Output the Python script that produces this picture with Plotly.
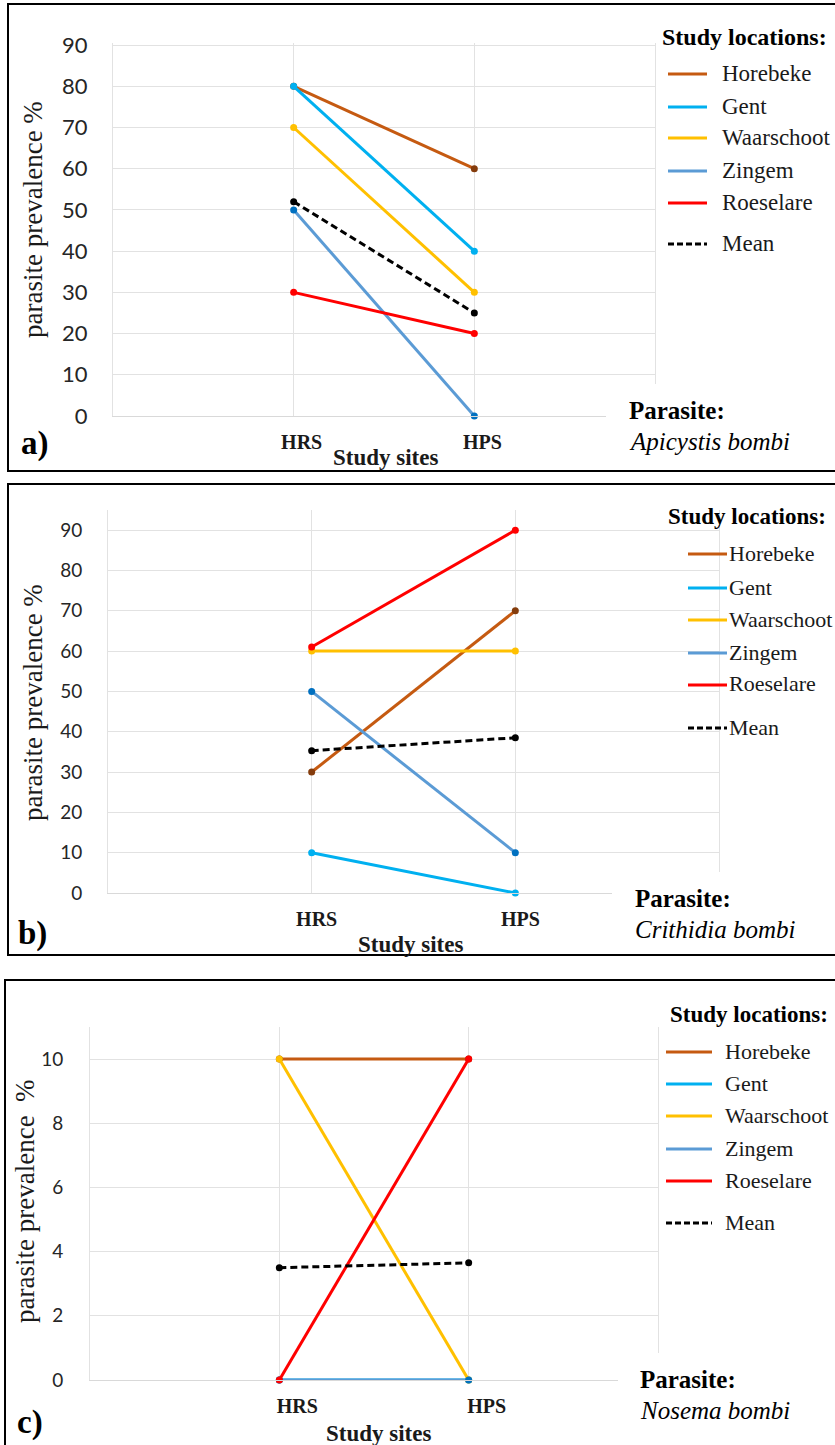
import plotly.graph_objects as go

W, H = 835, 1445

# ---------------- data ----------------
sites = ["HRS", "HPS"]
locations = ["Horebeke", "Gent", "Waarschoot", "Zingem", "Roeselare"]

# Apicystis bombi (panel a): prevalence per location at HRS and HPS
a_hrs = [80, 80, 70, 50, 30]
a_hps = [60, 40, 30, 0, 20]
a_mean = [52, 25]

# Crithidia bombi (panel b)
b_hrs = [30, 10, 60, 50, 61]
b_hps = [70, 0, 60, 10, 90]
b_mean = [35.3, 38.5]

# Nosema bombi (panel c)
c_hrs = [10, 0, 10, 0, 0]
c_hps = [10, 0, 0, 0, 10]
c_mean = [3.5, 3.65]

parasites = ["Apicystis bombi", "Crithidia bombi", "Nosema bombi"]
panel_letters = ["a)", "b)", "c)"]

line_colors = ["#C55A11", "#00B0F0", "#FFC000", "#5B9BD5", "#FF0000"]
marker_colors = ["#843C0C", "#00B0F0", "#FFC000", "#0070C0", "#FF0000"]

SERIF = "Liberation Serif, Times New Roman, serif"
SANS = "Lato, Carlito, Calibri, sans-serif"
GRID = "#E2E2E2"


def X(px):
    return px / W


def Y(py):
    return 1 - py / H


# layout geometry per panel (pixels)
panels = [
    dict(hrs=a_hrs, hps=a_hps, mean=a_mean, left=113, right=655, bottom=416, top=43,
         yr=[0, 90.5], dtick=10, tfs=22, stand=20, xshift=8,
         ytitle=(33, 220), ytxt="parasite prevalence %", xt=(385, 458), letter=(35, 443),
         leg_title=(660, 37), ltfs=24, leg_line=(668, 707), leg_text=720, lfs=23,
         leg_ys=[73, 106, 137, 170, 202, 243],
         par=(627, 411, 441), cover=(606, 384, 836, 469), box=(8, 4, 840, 471)),
    dict(hrs=b_hrs, hps=b_hps, mean=b_mean, left=108, right=719, bottom=893, top=510,
         yr=[0, 95], dtick=10, tfs=19, stand=21, xshift=5,
         ytitle=(33, 703), ytxt="parasite prevalence %", xt=(410, 944), letter=(32, 933),
         leg_title=(666, 517), ltfs=23, leg_line=(688, 727), leg_text=727, lfs=22,
         leg_ys=[553, 587, 619, 652, 684, 727],
         par=(633, 898, 929), cover=(612, 872, 836, 953), box=(8, 484, 840, 955)),
    dict(hrs=c_hrs, hps=c_hps, mean=c_mean, left=90, right=658, bottom=1380, top=1027,
         yr=[0, 11], dtick=2, tfs=19, stand=22, xshift=18,
         ytitle=(25, 1201), ytxt="parasite prevalence\u00a0 %", xt=(378, 1433), letter=(30, 1422),
         leg_title=(668, 1014), ltfs=23, leg_line=(666, 712), leg_text=723, lfs=22,
         leg_ys=[1051, 1083, 1115, 1148, 1180, 1222],
         par=(638, 1379, 1410), cover=(618, 1353, 836, 1445), box=(5, 980, 840, 1460)),
]

fig = go.Figure()
shapes = []
annotations = []
layout_axes = {}

for p_i, P in enumerate(panels):
    n = "" if p_i == 0 else str(p_i + 1)
    xa, ya = "x" + n, "y" + n

    for i, loc in enumerate(locations):
        fig.add_trace(go.Scatter(
            x=sites, y=[P["hrs"][i], P["hps"][i]], mode="lines+markers", name=loc,
            line=dict(color=line_colors[i], width=3),
            marker=dict(color=marker_colors[i], size=7),
            xaxis=xa, yaxis=ya, showlegend=False, cliponaxis=False))
    fig.add_trace(go.Scatter(
        x=sites, y=P["mean"], mode="lines+markers", name="Mean",
        line=dict(color="black", width=3, dash="7px,4px"),
        marker=dict(color="black", size=7),
        xaxis=xa, yaxis=ya, showlegend=False, cliponaxis=False))

    layout_axes["xaxis" + n] = dict(
        domain=[X(P["left"]), X(P["right"])], anchor=ya, type="category",
        categoryorder="array", categoryarray=sites, range=[-1, 2],
        showgrid=True, gridcolor=GRID, gridwidth=1,
        showline=True, linecolor="#D9D9D9", linewidth=1, ticks="",
        tickfont=dict(family=SERIF, size=20, color="#1a1a1a", weight="bold"),
        ticklabelstandoff=8, ticklabelshift=P["xshift"], zeroline=False,
        automargin=False, fixedrange=True)
    layout_axes["yaxis" + n] = dict(
        domain=[Y(P["bottom"]), Y(P["top"])], anchor=xa, range=P["yr"], dtick=P["dtick"],
        tick0=0, showgrid=True, gridcolor=GRID, gridwidth=1,
        showline=True, mirror=True, linecolor=GRID, linewidth=1, ticks="",
        zeroline=False, tickfont=dict(family=SANS, size=P["tfs"], color="#262626"),
        ticklabelstandoff=P["stand"], automargin=False, fixedrange=True)

    # white text-box area covering the grid (as in the original)
    cx0, cy0, cx1, cy1 = P["cover"]
    shapes.append(dict(type="rect", xref="paper", yref="paper", x0=X(cx0), x1=X(cx1),
                       y0=Y(cy1), y1=Y(cy0), fillcolor="white", line=dict(width=0), layer="above"))
    # panel border
    bx0, by0, bx1, by1 = P["box"]
    shapes.append(dict(type="rect", xref="paper", yref="paper", x0=X(bx0), x1=X(bx1),
                       y0=Y(by1), y1=Y(by0), line=dict(color="black", width=2), layer="above"))

    annotations.append(dict(text=P["ytxt"], xref="paper", yref="paper",
                            x=X(P["ytitle"][0]), y=Y(P["ytitle"][1]), textangle=-90,
                            showarrow=False, xanchor="center", yanchor="middle",
                            font=dict(family=SERIF, size=27, color="#1a1a1a")))
    annotations.append(dict(text="<b>Study sites</b>", xref="paper", yref="paper",
                            x=X(P["xt"][0]), y=Y(P["xt"][1]), showarrow=False,
                            xanchor="center", yanchor="middle",
                            font=dict(family=SERIF, size=23, color="#1a1a1a")))
    annotations.append(dict(text="<b>" + panel_letters[p_i] + "</b>", xref="paper", yref="paper",
                            x=X(P["letter"][0]), y=Y(P["letter"][1]), showarrow=False,
                            xanchor="center", yanchor="middle",
                            font=dict(family=SERIF, size=33, color="black")))
    annotations.append(dict(text="<b>Study locations:</b>", xref="paper", yref="paper",
                            x=X(P["leg_title"][0]), y=Y(P["leg_title"][1]), showarrow=False,
                            xanchor="left", yanchor="middle",
                            font=dict(family=SERIF, size=P["ltfs"], color="black")))
    names = locations + ["Mean"]
    cols = line_colors + ["black"]
    for k, nm in enumerate(names):
        yy = P["leg_ys"][k]
        shapes.append(dict(type="line", xref="paper", yref="paper",
                           x0=X(P["leg_line"][0]), x1=X(P["leg_line"][1]),
                           y0=Y(yy + 1), y1=Y(yy + 1),
                           line=dict(color=cols[k], width=3,
                                     dash="6px,3px" if nm == "Mean" else "solid"),
                           layer="above"))
        annotations.append(dict(text=nm, xref="paper", yref="paper",
                                x=X(P["leg_text"]), y=Y(yy), showarrow=False,
                                xanchor="left", yanchor="middle",
                                font=dict(family=SERIF, size=P["lfs"], color="#1a1a1a")))
    annotations.append(dict(text="<b>Parasite:</b>", xref="paper", yref="paper",
                            x=X(P["par"][0]), y=Y(P["par"][1]), showarrow=False,
                            xanchor="left", yanchor="middle",
                            font=dict(family=SERIF, size=25, color="black")))
    annotations.append(dict(text="<i>" + parasites[p_i] + "</i>", xref="paper", yref="paper",
                            x=X(P["par"][0]), y=Y(P["par"][2]), showarrow=False,
                            xanchor="left", yanchor="middle",
                            font=dict(family=SERIF, size=25, color="black")))

fig.update_layout(
    width=W, height=H, autosize=False,
    margin=dict(l=0, r=0, t=0, b=0, pad=0, autoexpand=False),
    paper_bgcolor="white", plot_bgcolor="white",
    shapes=shapes, annotations=annotations, showlegend=False,
    **layout_axes)

page_fix = (
    "document.documentElement.style.margin='0';"
    "document.documentElement.style.overflow='hidden';"
    "document.body.style.margin='0';"
    "document.body.style.overflow='hidden';"
    "var gd=document.getElementById('{plot_id}');"
    "gd.style.position='absolute';gd.style.left='0px';gd.style.top='0px';"
)

fig.write_html("out.html", post_script=page_fix, config={"displayModeBar": False})
